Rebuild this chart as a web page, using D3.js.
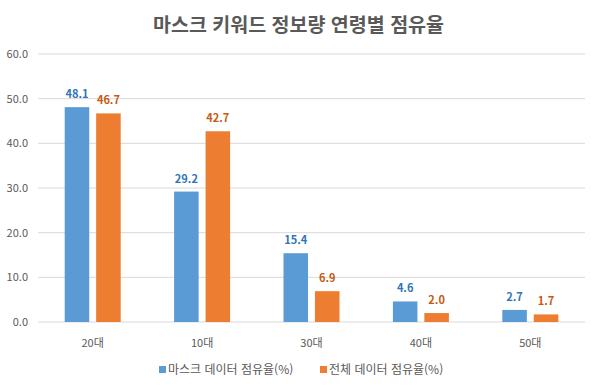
<!DOCTYPE html>
<html lang="ko">
<head>
<meta charset="utf-8">
<title>마스크 키워드 정보량 연령별 점유율</title>
<script src="https://cdn.jsdelivr.net/npm/d3@7"></script>
<style>
  body { margin: 0; background: #fff; }
  text { font-family: "Noto Sans CJK KR", "Noto Sans", sans-serif; }
</style>
</head>
<body>
<script>
// data
var categories = ["20대", "10대", "30대", "40대", "50대"];
var seriesNames = ["마스크 데이터 점유율(%)", "전체 데이터 점유율(%)"];
var maskShare = [48.1, 29.2, 15.4, 4.6, 2.7];
var totalShare = [46.7, 42.7, 6.9, 2.0, 1.7];
var yTicks = [0, 10, 20, 30, 40, 50, 60];

var barColors = ["#5b9bd5", "#ed7d31"];
var labelColors = ["#2e75b6", "#c55a11"];

var W = 597, H = 386;
var margin = {top: 54, right: 12, bottom: 64, left: 38};
var w = W - margin.left - margin.right,
    h = H - margin.top - margin.bottom;

var svg = d3.select("body").append("svg")
    .attr("width", W)
    .attr("height", H);

svg.append("text")
    .attr("x", W / 2)
    .attr("y", 32)
    .attr("text-anchor", "middle")
    .attr("font-size", "19.5px")
    .attr("font-weight", "bold")
    .attr("fill", "#595959")
    .text("마스크 키워드 정보량 연령별 점유율");

var g = svg.append("g")
    .attr("transform", "translate(" + margin.left + "," + margin.top + ")");

var x = d3.scaleBand().domain(categories).range([0, w]);
var inner = d3.scaleBand().domain([0, 1]).range([-28, 28]).paddingInner(0.22);
var y = d3.scaleLinear().domain([0, 60]).range([h, 0]);

// gridlines
g.selectAll(".grid")
    .data(yTicks)
    .enter()
    .append("line")
    .attr("x1", 0)
    .attr("x2", w)
    .attr("y1", function(d) { return y(d); })
    .attr("y2", function(d) { return y(d); })
    .attr("stroke", "#d9d9d9")
    .attr("stroke-width", 1);

// y tick labels
g.selectAll(".ylab")
    .data(yTicks)
    .enter()
    .append("text")
    .attr("x", -10)
    .attr("y", function(d) { return y(d) + 4; })
    .attr("text-anchor", "end")
    .attr("font-size", "11px")
    .attr("fill", "#595959")
    .text(function(d) { return d.toFixed(1); });

// x labels
g.selectAll(".xlab")
    .data(categories)
    .enter()
    .append("text")
    .attr("x", function(d) { return x(d) + x.bandwidth() / 2; })
    .attr("y", h + 25)
    .attr("text-anchor", "middle")
    .attr("font-size", "11px")
    .attr("fill", "#595959")
    .text(function(d) { return d; });

var series = [maskShare, totalShare];

series.forEach(function(vals, s) {
  var grp = g.append("g");
  grp.selectAll("rect")
      .data(vals)
      .enter()
      .append("rect")
      .attr("x", function(d, i) { return x(categories[i]) + x.bandwidth() / 2 + inner(s); })
      .attr("width", inner.bandwidth())
      .attr("y", function(d) { return y(d); })
      .attr("height", function(d) { return h - y(d); })
      .attr("fill", barColors[s]);

  grp.selectAll("text")
      .data(vals)
      .enter()
      .append("text")
      .attr("x", function(d, i) { return x(categories[i]) + x.bandwidth() / 2 + inner(s) + inner.bandwidth() / 2; })
      .attr("y", function(d) { return y(d) - 9; })
      .attr("text-anchor", "middle")
      .attr("font-size", "11px")
      .attr("font-weight", "bold")
      .attr("fill", labelColors[s])
      .text(function(d) { return d.toFixed(1); });
});

// legend
var legendX = [159, 320];
var legend = svg.selectAll(".legend")
    .data(seriesNames)
    .enter()
    .append("g")
    .attr("transform", function(d, i) { return "translate(" + legendX[i] + ",374)"; });

legend.append("rect")
    .attr("x", 0)
    .attr("y", -8)
    .attr("width", 7)
    .attr("height", 7)
    .attr("fill", function(d, i) { return barColors[i]; });

legend.append("text")
    .attr("x", 9)
    .attr("y", 0)
    .attr("font-size", "12px")
    .attr("fill", "#595959")
    .text(function(d) { return d; });
</script>
</body>
</html>
